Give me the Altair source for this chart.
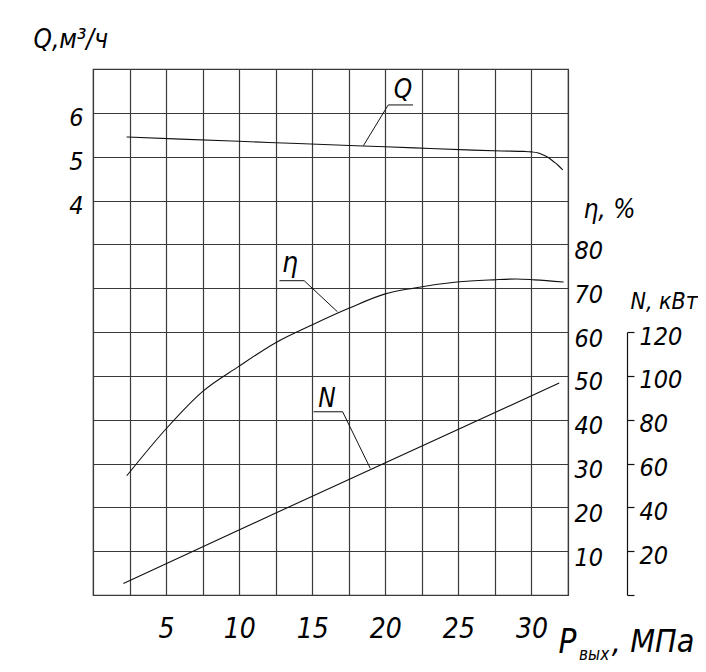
import altair as alt
import pandas as pd

# ---- data (pressure P in MPa) ----
q_p = [2.3, 6, 10, 14, 18, 22, 26, 28, 29.5, 30.0, 30.4, 30.8, 31.2, 31.5, 31.8, 32.14]
q_val = [5.45, 5.40, 5.35, 5.30, 5.25, 5.20, 5.15, 5.13, 5.12, 5.11, 5.09, 5.04, 4.97, 4.89, 4.81, 4.70]

eta_p = [2.31, 5.05, 7.49, 9.95, 12.47, 14.98, 17.5, 20.0, 21.9, 24.9, 27.4, 29.0, 30.2, 32.2]
eta_val = [27.2, 38.1, 46.4, 52.1, 57.5, 61.6, 65.4, 68.7, 70.0, 71.4, 71.9, 72.1, 71.9, 71.4]

n_p = [2.08, 12.47, 31.9]
n_val = [5.3, 37.3, 96.7]

# tick / grid values
x_ticks = [0, 2.5, 5, 7.5, 10, 12.5, 15, 17.5, 20, 22.5, 25, 27.5, 30, 32.5]
q_ticks = [-5, -4, -3, -2, -1, 0, 1, 2, 3, 4, 5, 6, 7]
eta_ticks = [10, 20, 30, 40, 50, 60, 70, 80]
n_ticks = [0, 20, 40, 60, 80, 100, 120]

# leader lines of the curve labels (data units)
q_lead_p = [21.9, 20.2, 18.5]
q_lead_v = [6.18, 6.18, 5.25]
eta_lead_p = [12.76, 14.45, 16.73]
eta_lead_v = [71.7, 71.7, 64.6]
n_lead_p = [15.09, 17.08, 18.97]
n_lead_v = [83.6, 83.6, 57.8]

# curve labels (data units)
q_lbl = {"P": [21.21], "v": [6.34], "t": ["Q"]}
eta_lbl = {"P": [13.48], "v": [73.8], "t": ["η"]}
n_lbl = {"P": [16.01], "v": [85.9], "t": ["N"]}
sub_lbl = {"P": [33.26], "v": [-6.48], "t": ["вых"]}
unit_lbl = {"P": [35.5], "v": [-6.30], "t": [", МПа"]}

W, H = 475, 526
FONT = "DejaVu Sans Condensed"
GRID = "#3a3a3a"
INK = "#111111"

q_df = pd.DataFrame({"P": q_p, "v": q_val})
eta_df = pd.DataFrame({"P": eta_p, "v": eta_val})
n_df = pd.DataFrame({"P": n_p, "v": n_val})


def lead_df(p, v):
    return pd.DataFrame({"P": p, "v": v, "i": list(range(len(p)))})


x_scale = alt.Scale(domain=[0, 32.5], nice=False, zero=False)
q_scale = alt.Scale(domain=[-5, 7], nice=False, zero=False)
eta_scale = alt.Scale(domain=[0, 120], nice=False, zero=False)
n_scale = alt.Scale(domain=[0, 120], range=[H, H / 2], nice=False, zero=False)

# the same x axis is given to every layer so that the shared axis merges cleanly
x_axis = alt.Axis(
    values=x_ticks, grid=True, ticks=False, domain=False,
    gridColor=GRID, gridWidth=1.2, gridOpacity=1,
    labelExpr="datum.value > 0 && datum.value % 5 == 0 ? format(datum.value, 'd') : ''",
    labelFont=FONT, labelFontStyle="italic", labelColor="black",
    labelFontSize=28, labelPadding=20, labelAngle=0, labelFlush=False, labelOverlap=False,
    title="P", titleFont=FONT, titleFontStyle="italic", titleFontWeight="normal",
    titleColor="black", titleAngle=0, titleAlign="left", titleBaseline="alphabetic",
    titleFontSize=33, titleX=465, titleY=57)

q_axis = alt.Axis(
    orient="left", values=q_ticks, grid=True, ticks=False, domain=False,
    gridColor=GRID, gridWidth=1.2, gridOpacity=1,
    labelExpr="datum.value >= 4 && datum.value <= 6 ? format(datum.value, 'd') : ''",
    labelFont=FONT, labelFontStyle="italic", labelColor="black",
    labelFontSize=25, labelPadding=10, labelOffset=5, labelOverlap=False, labelFlush=False,
    title="Q,м³/ч", titleFont=FONT, titleFontStyle="italic", titleFontWeight="normal",
    titleColor="black", titleAngle=0, titleAlign="left", titleBaseline="alphabetic",
    titleFontSize=26, titleX=-60, titleY=-22)

eta_axis = alt.Axis(
    orient="right", values=eta_ticks, grid=False, ticks=False, domain=False,
    labelFont=FONT, labelFontStyle="italic", labelColor="black",
    labelFontSize=25, labelPadding=6, labelOffset=6, labelOverlap=False, labelFlush=False,
    title="η, %", titleFont=FONT, titleFontStyle="italic", titleFontWeight="normal",
    titleColor="black", titleAngle=0, titleAlign="left", titleBaseline="alphabetic",
    titleFontSize=26, titleX=15, titleY=148)

n_axis = alt.Axis(
    orient="right", offset=59, values=n_ticks, grid=False,
    ticks=True, tickSize=7, tickColor=INK, tickWidth=1.2,
    domain=True, domainColor=INK, domainWidth=1.2,
    labelExpr="datum.value > 0 ? format(datum.value, 'd') : ''",
    labelFont=FONT, labelFontStyle="italic", labelColor="black",
    labelFontSize=25, labelPadding=5, labelOffset=4, labelOverlap=False, labelFlush=False,
    title="N, кВт", titleFont=FONT, titleFontStyle="italic", titleFontWeight="normal",
    titleColor="black", titleAngle=0, titleAlign="left", titleBaseline="alphabetic",
    titleFontSize=23, titleX=3, titleY=239)


def xenc():
    return alt.X("P:Q", scale=x_scale, axis=x_axis)


def text_layer(d, scale, size, align="center"):
    return alt.Chart(pd.DataFrame(d)).mark_text(
        font=FONT, fontStyle="italic", fontSize=size, color="black",
        align=align, baseline="alphabetic").encode(
        x=xenc(),
        y=alt.Y("v:Q", scale=scale, axis=None),
        text="t:N")


def lead_layer(p, v, scale):
    return alt.Chart(lead_df(p, v)).mark_line(color=INK, strokeWidth=1).encode(
        x=xenc(),
        y=alt.Y("v:Q", scale=scale, axis=None),
        order="i:Q")


q_line = alt.Chart(q_df).mark_line(color=INK, strokeWidth=1.1, interpolate="monotone").encode(
    x=xenc(),
    y=alt.Y("v:Q", scale=q_scale, axis=q_axis))

eta_line = alt.Chart(eta_df).mark_line(color=INK, strokeWidth=1.1, interpolate="monotone").encode(
    x=xenc(),
    y=alt.Y("v:Q", scale=eta_scale, axis=eta_axis))

n_line = alt.Chart(n_df).mark_line(color=INK, strokeWidth=1.1).encode(
    x=xenc(),
    y=alt.Y("v:Q", scale=n_scale, axis=n_axis))

chart = alt.layer(
    q_line,
    eta_line,
    n_line,
    lead_layer(q_lead_p, q_lead_v, q_scale),
    lead_layer(eta_lead_p, eta_lead_v, eta_scale),
    lead_layer(n_lead_p, n_lead_v, n_scale),
    text_layer(q_lbl, q_scale, 26),
    text_layer(eta_lbl, eta_scale, 28),
    text_layer(n_lbl, n_scale, 26),
    text_layer(sub_lbl, q_scale, 17, "left"),
    text_layer(unit_lbl, q_scale, 32, "left"),
).resolve_scale(y="independent").properties(
    width=W, height=H,
    autosize=alt.AutoSizeParams(type="none"),
    padding={"left": 85, "top": 61, "right": 130, "bottom": 68},
).configure_view(stroke=GRID, strokeWidth=1.2)

chart.save("out.html", embed_options={"renderer": "svg", "actions": False})
